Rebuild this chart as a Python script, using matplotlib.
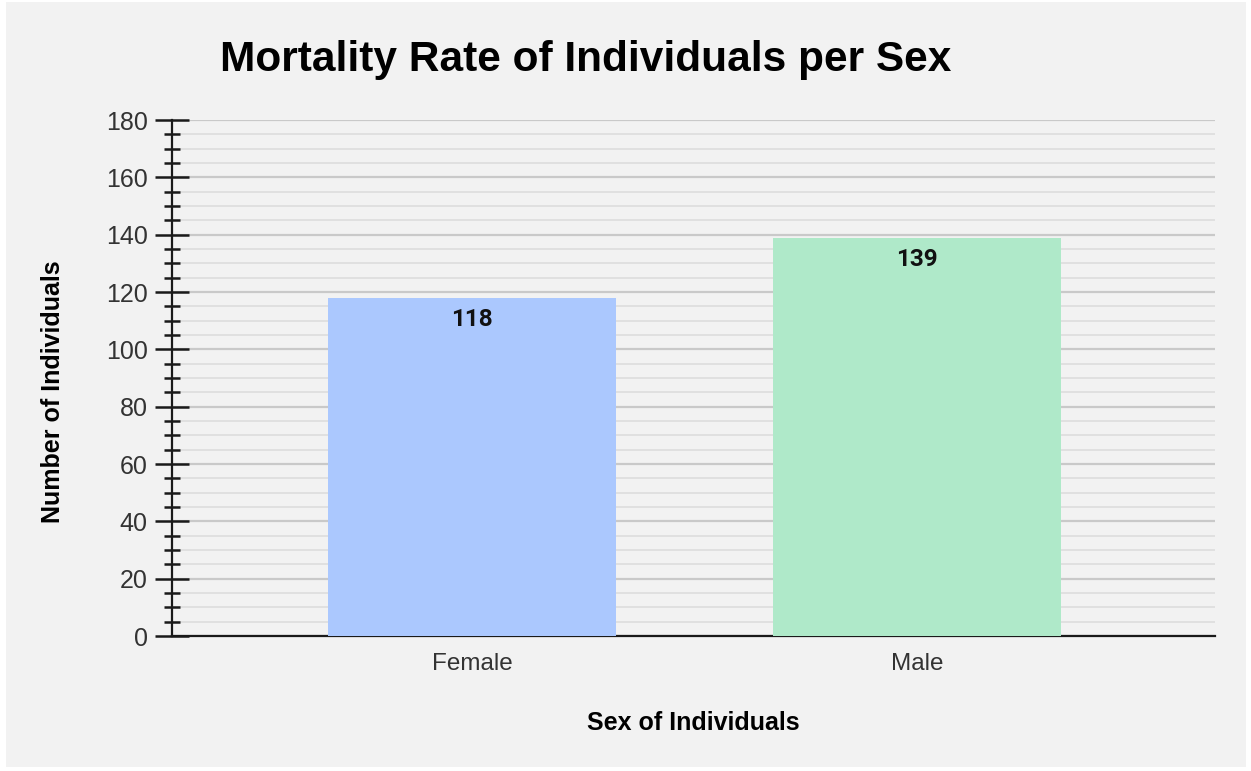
import matplotlib.pyplot as plt
from matplotlib.patches import Rectangle
from matplotlib.ticker import MultipleLocator

# data
categories = ['Female', 'Male']
counts = [118, 139]
bar_colors = ['#abc8fe', '#afe9c9']

W, H = 1251, 771
fig = plt.figure(figsize=(W / 100, H / 100), dpi=100, facecolor='white')
fig.patches.append(Rectangle((6 / W, 4 / H), 1240 / W, 765 / H, transform=fig.transFigure,
                             facecolor='#f2f2f2', edgecolor='none', zorder=-10))

ax = fig.add_axes([172 / W, 1 - 636 / H, (1215 - 172) / W, (636 - 120) / H])
ax.set_facecolor('none')

x = range(len(categories))
ax.bar(x, counts, width=0.647, color=bar_colors, zorder=3)
for xi, v in zip(x, counts):
    ax.annotate(str(v), (xi, v), xytext=(0, -22), textcoords='offset pixels',
                ha='center', va='center', fontsize=17.5, fontweight='bold',
                family='Roboto', color='#111111', zorder=4)

ax.set_xlim(-0.674, 1.67)
ax.set_ylim(0, 180)
ax.set_xticks(list(x))
ax.set_xticklabels(categories)
ax.yaxis.set_major_locator(MultipleLocator(20))
ax.yaxis.set_minor_locator(MultipleLocator(5))

ax.grid(axis='y', which='major', color='#c9c9c9', linewidth=1.6, zorder=1)
ax.grid(axis='y', which='minor', color='#e0e0e0', linewidth=1.4, zorder=1)

for s in ['top', 'right']:
    ax.spines[s].set_visible(False)
for s in ['left', 'bottom']:
    ax.spines[s].set_color('#1a1a1a')
    ax.spines[s].set_linewidth(1.6)

ax.tick_params(axis='y', which='major', direction='inout', length=25, width=1.8,
               color='#1a1a1a', labelsize=18, labelcolor='#333333', pad=5)
ax.tick_params(axis='y', which='minor', direction='inout', length=12, width=1.8,
               color='#1a1a1a')
ax.tick_params(axis='x', length=0, labelsize=17.5, labelcolor='#333333', pad=12)
for lab in ax.get_xticklabels() + ax.get_yticklabels():
    lab.set_family('Liberation Sans')

fig.text(586 / W, 1 - 60 / H, 'Mortality Rate of Individuals per Sex', ha='center', va='center',
         fontsize=30.5, fontweight='bold', family='Liberation Sans', color='#000000')
fig.text(693 / W, 1 - 723 / H, 'Sex of Individuals', ha='center', va='center',
         fontsize=18, fontweight='bold', family='Liberation Sans', color='#000000')
fig.text(53 / W, 1 - 392 / H, 'Number of Individuals', ha='center', va='center', rotation=90,
         fontsize=18, fontweight='bold', family='Liberation Sans', color='#000000')

fig.savefig('out.png', dpi=100, facecolor=fig.get_facecolor())
